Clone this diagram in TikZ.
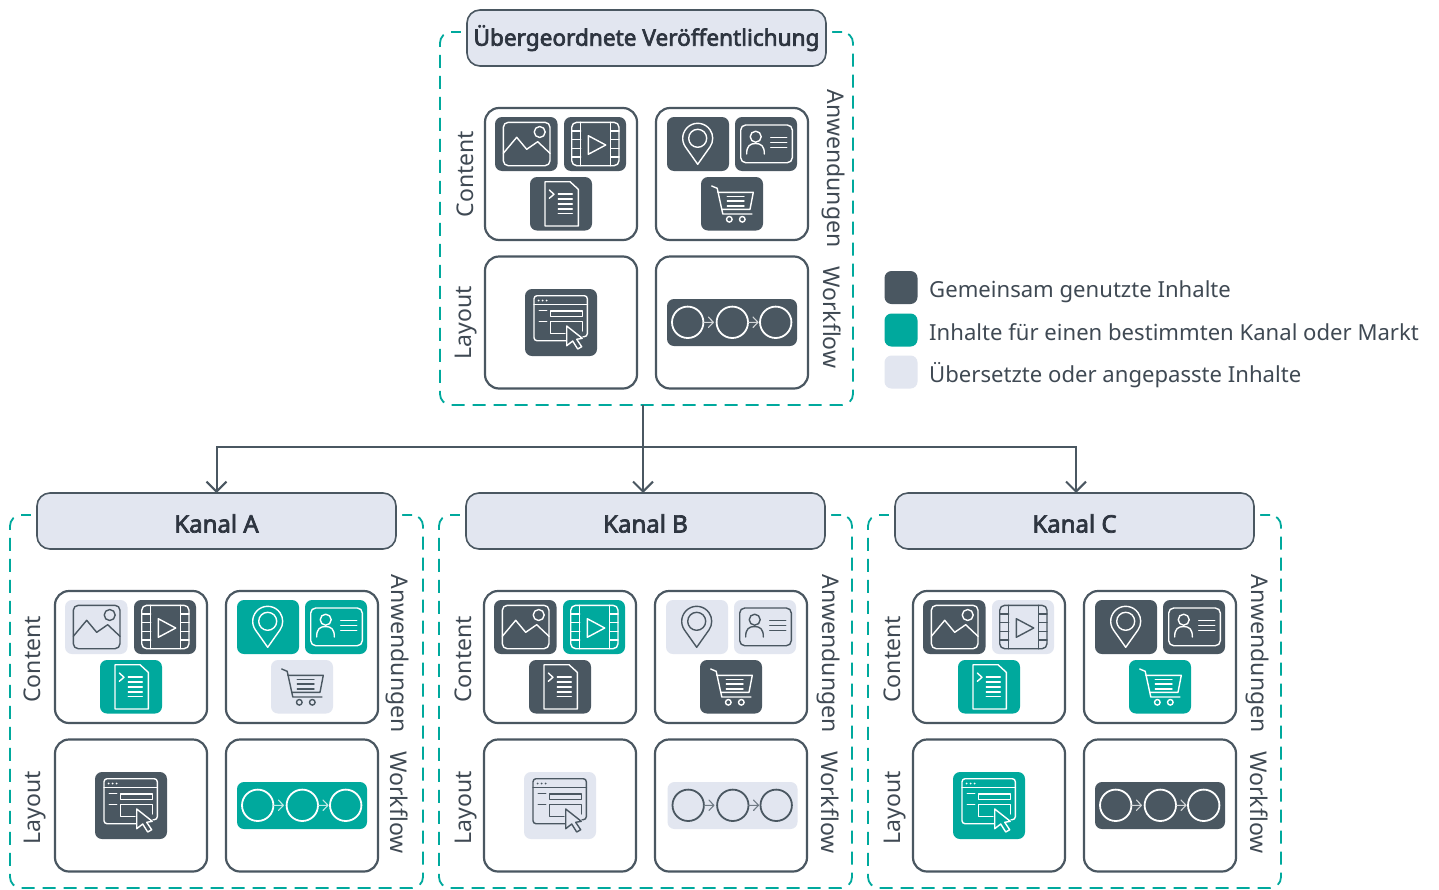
\documentclass[tikz,border=0pt]{standalone}
\usepackage{fontspec}
\setmainfont{Noto Sans}
\newfontfamily\hdfont{Noto Sans}[FakeBold=3]
\usetikzlibrary{arrows.meta}
\definecolor{dk}{HTML}{4A5761}
\definecolor{tl}{HTML}{00A99D}
\definecolor{lg}{HTML}{E2E6F0}
\definecolor{hdtext}{HTML}{2E3540}
\definecolor{lbtext}{HTML}{3F4953}
\tikzset{
  frame/.style={draw=tl,line width=1.8pt,dash pattern=on 13pt off 8pt,rounded corners=11pt,minimum width=413pt,minimum height=373pt,inner sep=0pt,outer sep=0pt},
  header/.style={draw=dk,fill=lg,line width=1.6pt,rounded corners=13pt,minimum width=359pt,minimum height=56pt,inner sep=0pt,outer sep=0pt,text=hdtext,text height=23pt,text depth=0pt,font=\hdfont\fontsize{24}{27}\selectfont,preaction={draw=white,line width=12pt}},
  cell/.style={draw=dk,fill=white,line width=2.2pt,rounded corners=14pt,minimum width=152pt,minimum height=132pt,inner sep=0pt,outer sep=0pt},
  rotlabel/.style={text=lbtext,inner sep=0pt,font=\fontsize{23}{27}\selectfont},
  legtext/.style={text=lbtext,inner sep=0pt,anchor=base west,font=\fontsize{22.1}{27}\selectfont},
  tilebox/.style={draw=none,rounded corners=7pt,inner sep=0pt,outer sep=0pt},
  ico/.style={draw=tfg,line width=1.4pt,line join=round,line cap=round},
  link/.style={draw=dk,line width=2pt},
  arrowlink/.style={link,-{Straight Barb[length=10pt,width=20pt,line width=2pt]}}
}
\newcommand{\setS}[1]{%
  \if#1D\colorlet{tbg}{dk}\colorlet{tfg}{white}\fi
  \if#1T\colorlet{tbg}{tl}\colorlet{tfg}{white}\fi
  \if#1L\colorlet{tbg}{lg}\colorlet{tfg}{dk}\fi}
\newcommand{\tile}[6]{\setS{#6}%
  \node[tilebox,fill=tbg,minimum width={(#4-#2)*1pt},minimum height={(#5-#3)*1pt}] (\gp-#1) at ({(#2+#4)/2},{(#3+#5)/2}) {};}
\newcommand{\IconImg}[1]{\tile{img}{495}{117}{557.5}{171}{#1}
  \draw[ico,rounded corners=5pt] (503.3,122.3) rectangle (550,165.7);
  \draw[ico] (539.7,132) circle[radius=5.5];
  \draw[ico] (503.3,153.3) -- (516.7,137.3) -- (526.7,149.3) -- (537.7,141.7) -- (550,153.3);}
\newcommand{\IconVid}[1]{\tile{vid}{564}{117}{626}{171}{#1}
  \draw[ico,rounded corners=5pt] (571.7,122.3) rectangle (619,165.7);
  \draw[ico] (580.7,122.3) -- (580.7,165.7) (610.7,122.3) -- (610.7,165.7);
  \foreach \yy in {131,139.7,148.4,157}{\draw[ico] (571.7,\yy) -- (580.7,\yy) (610.7,\yy) -- (619,\yy);}
  \draw[ico] (588.3,135.7) -- (605.7,145) -- (588.3,154.3) -- cycle;}
\newcommand{\IconDoc}[1]{\tile{doc}{530}{177}{592}{230.5}{#1}
  \draw[ico] (570,181.7) -- (545,181.7) -- (545,226) -- (578.3,226) -- (578.3,189.3) -- cycle;
  \draw[ico] (549.3,190) -- (554,194.3) -- (549.3,198.3);
  \foreach \yy in {194,199,204,209,213.7}{\draw[ico] (558.3,\yy) -- (572.3,\yy);}}
\newcommand{\IconPin}[1]{\tile{pin}{667}{117}{729}{171}{#1}
  \draw[ico] (697.7,164.3) -- (685.44,146.95) arc[start angle=144.8,end angle=395.2,radius=15] -- cycle;
  \draw[ico] (697.7,138.3) circle[radius=9];}
\newcommand{\IconCard}[1]{\tile{card}{735}{117}{797}{171}{#1}
  \draw[ico,rounded corners=5pt] (740.7,125) rectangle (792.3,162.7);
  \draw[ico] (755.7,136.7) circle[radius=5.5];
  \draw[ico] (746.7,154) .. controls (746.5,146) and (750,143.5) .. (755.5,143.5) .. controls (761,143.5) and (764.5,146) .. (764.3,154);
  \foreach \yy in {137.3,142.3,147.3}{\draw[ico] (770.7,\yy) -- (786.7,\yy);}}
\newcommand{\IconCart}[1]{\tile{cart}{701}{177}{763}{230.5}{#1}
  \draw[ico] (711.7,186) -- (717.2,188.3) -- (722.8,214) -- (752,214);
  \draw[ico] (717.9,192.3) -- (753.3,192.3) -- (750,209.3) -- (721.8,209.3);
  \foreach \yy in {196.2,201,206}{\draw[ico] (727.3,\yy) -- (744,\yy);}
  \draw[ico] (729.3,219.3) circle[radius=2.8] (742.3,219.3) circle[radius=2.8];}
\newcommand{\IconLayout}[1]{\tile{lay}{525}{289}{597}{356}{#1}
  \draw[ico,rounded corners=3pt] (566.7,340.7) -- (534,340.7) -- (534,295.7) -- (587.3,295.7) -- (587.3,336.7) -- (583,336.7);
  \draw[ico] (534,304.3) -- (587.3,304.3);
  \fill[tfg] (538.7,300.5) circle[radius=1] (542.7,300.5) circle[radius=1] (546.7,300.5) circle[radius=1];
  \draw[ico] (550.7,311) rectangle (582.7,316.7);
  \draw[ico] (539.3,310.7) -- (546.7,310.7) (539.3,321.3) -- (546.7,321.3);
  \draw[ico] (565,333.3) -- (550.7,333.3) -- (550.7,321.7) -- (582.7,321.7) -- (582.7,331);
  \draw[ico,fill=tbg] (566.7,326) -- (582.3,338.3) -- (576.7,339.3) -- (581.7,346.7) -- (577.7,349) -- (572.7,341) -- (566.7,345.7) -- cycle;}
\newcommand{\IconFlow}[1]{\tile{flow}{667}{299}{797}{346}{#1}
  \foreach \xx in {687.7,732.3,775.7}{\draw[ico,line width=1.8pt] (\xx,322.3) circle[radius=15.7];}
  \foreach \xx in {703.4,748}{\draw[ico,line width=1.1pt,draw=tfg!75!tbg] (\xx,322.3) -- (\xx+10,322.3) (\xx+5,317) -- (\xx+10,322.3) -- (\xx+5,327.5);}}
% #1 name, #2 title, #3 x shift, #4 y shift, #5 left label offset, #6 right label x offset, #7 label y offset, #8 icons
\newcommand{\panel}[8]{\def\gp{#1}%
  \begin{scope}[shift={(#3,#4)}]
    \node[frame] (frame#1) at (646.5,218.5) {};
    \node[header] (head#1) at (646.5,38) {#2};
    \node[cell] (\gp-content) at (561,174) {};
    \node[cell] (\gp-apps) at (732,174) {};
    \node[cell] (\gp-layout) at (561,322.5) {};
    \node[cell] (\gp-work) at (732,322.5) {};
    \node[rotlabel,rotate=90] (\gp-lc) at (465+#5,174+#7*1.2) {Content};
    \node[rotlabel,rotate=90] (\gp-ll) at (466.5+#5+#7*0.75,323+#7) {Layout};
    \node[rotlabel,rotate=-90] (\gp-la) at (833+#6,168.5+#7) {Anwendungen};
    \node[rotlabel,rotate=-90] (\gp-lw) at (832+#6+#7*1.5,317.5+#7) {Workflow};
    #8
  \end{scope}}
\begin{document}
\begin{tikzpicture}[x=1pt,y=-1pt]
\useasboundingbox (0,0) rectangle (1439,889);
\fill[white] (0,0) rectangle (1439,889);
\panel{T}{\raisebox{3.8pt}{\fontsize{22.6}{27}\selectfont Übergeordnete Veröffentlichung}}{0}{0}{0}{0}{0}{\IconImg{D}\IconVid{D}\IconDoc{D}\IconPin{D}\IconCard{D}\IconCart{D}\IconLayout{D}\IconFlow{D}}
\panel{A}{Kanal A}{-430}{483}{-3}{-6}{2}{\IconImg{L}\IconVid{D}\IconDoc{T}\IconPin{T}\IconCard{T}\IconCart{L}\IconLayout{D}\IconFlow{T}}
\panel{B}{Kanal B}{-1}{483}{-0.5}{-3.5}{2}{\IconImg{D}\IconVid{T}\IconDoc{D}\IconPin{L}\IconCard{L}\IconCart{D}\IconLayout{L}\begin{scope}[xshift=1.5pt]\IconFlow{L}\end{scope}}
\panel{C}{Kanal C}{428}{483}{-1}{-4}{2}{\IconImg{D}\IconVid{L}\IconDoc{T}\IconPin{D}\IconCard{D}\IconCart{T}\IconLayout{T}\IconFlow{D}}
% connectors
\coordinate (split) at ([xshift=-3.5pt,yshift=-42pt]frameT.south);
\draw[link] ([xshift=-3.5pt]frameT.south) -- (split);
\draw[arrowlink] (split) -- (split |- headB.north);
\draw[arrowlink] (split) -| (headA.north);
\draw[arrowlink] (split) -| ([xshift=1.5pt]headC.north);
% legend
\node[tilebox,fill=dk,minimum width=33pt,minimum height=33pt] (leg1) at (901,287.5) {};
\node[tilebox,fill=tl,minimum width=33pt,minimum height=33pt] (leg2) at (901,330) {};
\node[tilebox,fill=lg,minimum width=33pt,minimum height=33pt] (leg3) at (901,372) {};
\node[legtext] (legt1) at (929,297) {Gemeinsam genutzte Inhalte};
\node[legtext] (legt2) at (929,340) {Inhalte für einen bestimmten Kanal oder Markt};
\node[legtext] (legt3) at (929,382) {Übersetzte oder angepasste Inhalte};
\end{tikzpicture}
\end{document}
